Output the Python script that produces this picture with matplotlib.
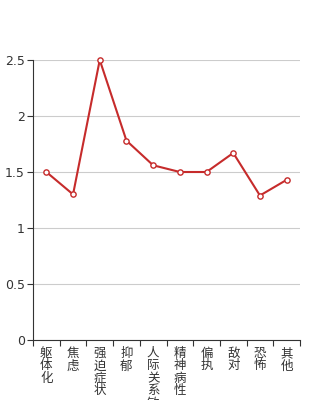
import matplotlib
matplotlib.use("Agg")
import matplotlib.pyplot as plt
import numpy as np

plt.rcParams['font.family'] = ['Noto Sans CJK SC', 'DejaVu Sans']

categories = ['躯体化', '焦虑', '强迫症状', '抑郁', '人际关系敏感', '精神病性', '偏执', '敌对', '恐怖', '其他']
values = [1.5, 1.3, 2.5, 1.78, 1.56, 1.5, 1.5, 1.67, 1.29, 1.43]
yticks = [0, 0.5, 1, 1.5, 2, 2.5]
ytick_labels = ['0', '0.5', '1', '1.5', '2', '2.5']

fig = plt.figure(figsize=(3.34, 4.0), dpi=100)
ax = fig.add_axes([33/334, 1-340/400, 267/334, 280/400])

x = np.arange(len(categories))
ax.plot(x, values, color='#c62b2b', lw=1.5, marker='o', ms=3.8,
        mfc='white', mec='#c62b2b', mew=1, zorder=3, clip_on=False)

ax.set_xlim(-0.5, len(categories)-0.5)
ax.set_ylim(0, 2.5)
ax.set_yticks(yticks)
ax.set_yticklabels(ytick_labels, fontsize=9, color='#333333', family='DejaVu Sans')
ax.grid(axis='y', color='#cccccc', lw=0.8)
ax.set_axisbelow(True)

ax.set_xticks(np.arange(-0.5, len(categories), 1.0))
ax.set_xticklabels([])
ax.set_xticks(x, minor=True)
ax.set_xticklabels(['\n'.join(c) for c in categories], minor=True,
                   fontsize=9, color='#333333', va='top', linespacing=0.95)
ax.tick_params(axis='x', which='minor', length=0, pad=5)
ax.tick_params(axis='x', which='major', length=4, color='#333333')
ax.tick_params(axis='y', length=4, color='#333333', pad=2)

for s in ['top', 'right']:
    ax.spines[s].set_visible(False)
for s in ['left', 'bottom']:
    ax.spines[s].set_color('#333333')

fig.savefig('out.png', dpi=100)
